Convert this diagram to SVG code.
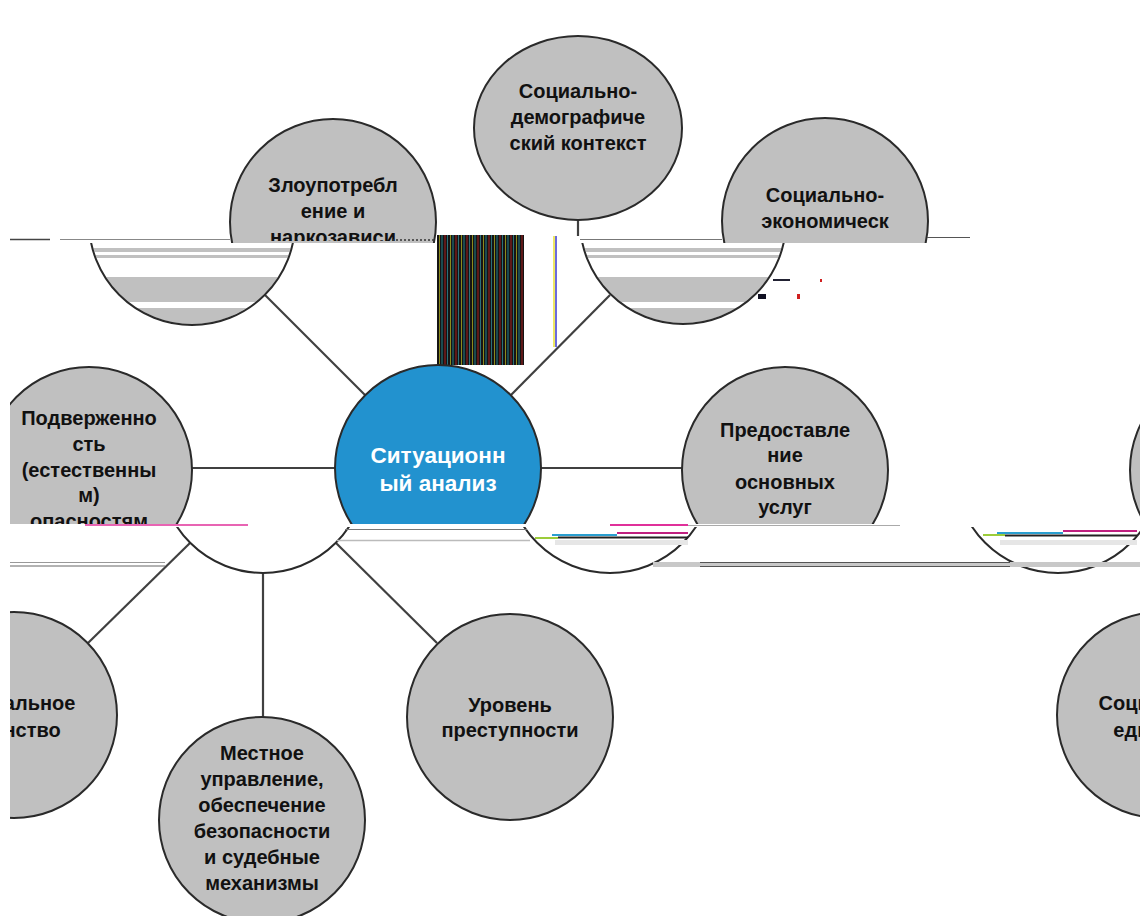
<svg xmlns="http://www.w3.org/2000/svg" width="1140" height="916" viewBox="0 0 1140 916">
<defs>
<style>
.n{fill:#c0c0c0;stroke:#2a2a2a;stroke-width:2}
.w{fill:#fff;stroke:#2a2a2a;stroke-width:2}
.o{fill:none;stroke:#2a2a2a;stroke-width:2}
.c{fill:#2292cf;stroke:#2a2a2a;stroke-width:2}
.t{font-family:"Liberation Sans",Arial,sans-serif;font-weight:bold;font-size:20px;fill:#111;text-anchor:middle}
.tc{font-family:"Liberation Sans",Arial,sans-serif;font-weight:bold;font-size:22.5px;fill:#fff;text-anchor:middle}
.l{stroke:#404040;stroke-width:2.2;fill:none}
.g{fill:#c0c0c0}
</style>
<clipPath id="up243"><rect x="0" y="0" width="1140" height="243"/></clipPath>
<clipPath id="txt241"><rect x="0" y="0" width="1140" height="241"/></clipPath>
<clipPath id="up524"><rect x="0" y="0" width="1140" height="524"/></clipPath>
<clipPath id="lo243"><rect x="0" y="243" width="1140" height="100"/></clipPath>
<clipPath id="lo527"><rect x="0" y="527" width="1140" height="60"/></clipPath>
<clipPath id="zlc"><circle cx="192" cy="222" r="102"/></clipPath>
<clipPath id="sec"><circle cx="683" cy="221" r="102"/></clipPath>
<pattern id="stripes" x="437" y="0" width="11" height="10" patternUnits="userSpaceOnUse">
<rect width="11" height="10" fill="#141414"/>
<rect x="2" width="1" height="10" fill="#8c8a1c"/>
<rect x="4.5" width="1" height="10" fill="#1f7f8c"/>
<rect x="7.5" width="1" height="10" fill="#a81c1c"/>
<rect x="10" width="1" height="10" fill="#2a6f7a"/>
</pattern>
</defs>
<rect width="1140" height="916" fill="#fff"/>

<g id="connectors">
<path class="l" d="M192 468H335"/>
<path class="l" d="M541 468H683"/>
<path class="l" d="M365 395L265 295"/>
<path class="l" d="M511 395L610 295"/>
<path class="l" d="M578 220V236"/>
<path d="M554 236V347" stroke="#e8e030" stroke-width="1.5"/>
<path d="M556 236V347" stroke="#3a3ad0" stroke-width="1.5"/>
<path class="l" d="M190 543L88 643"/>
<path class="l" d="M263 573V717"/>
<path class="l" d="M336 543L437 643"/>
</g>

<g id="node-demography">
<ellipse class="n" cx="578" cy="128" rx="104" ry="92"/>
<text class="t" x="578" y="98">Социально-</text>
<text class="t" x="578" y="124">демографиче</text>
<text class="t" x="578" y="150">ский контекст</text>
</g>

<g id="node-abuse">
<circle class="n" cx="333" cy="222" r="103" clip-path="url(#up243)"/>
<g clip-path="url(#txt241)">
<text class="t" x="333" y="192">Злоупотребл</text>
<text class="t" x="333" y="218">ение и</text>
<text class="t" x="333" y="244">наркозависи</text>
</g>
<path d="M392 240H436" stroke="#333" stroke-width="1.5" stroke-dasharray="2 2"/>
<g clip-path="url(#zlc)">
<rect class="g" x="80" y="248" width="220" height="4"/>
<rect class="g" x="80" y="255" width="220" height="3"/>
<rect class="g" x="80" y="277" width="220" height="25"/>
<rect class="g" x="80" y="308" width="220" height="20"/>
</g>
<circle class="o" cx="192" cy="222" r="103" clip-path="url(#lo243)"/>
</g>

<g id="node-economy">
<circle class="n" cx="825" cy="221" r="103" clip-path="url(#up243)"/>
<g clip-path="url(#txt241)">
<text class="t" x="825" y="202">Социально-</text>
<text class="t" x="825" y="228">экономическ</text>
</g>
<g clip-path="url(#sec)">
<rect class="g" x="570" y="248" width="230" height="4"/>
<rect class="g" x="570" y="255" width="230" height="3"/>
<rect class="g" x="570" y="277" width="230" height="25"/>
<rect class="g" x="570" y="308" width="230" height="20"/>
</g>
<circle class="o" cx="683" cy="221" r="103" clip-path="url(#lo243)"/>
<path d="M773 280H790" stroke="#223" stroke-width="2"/>
<rect x="820" y="279" width="2" height="3" fill="#d02020"/>
<rect x="758" y="294" width="8" height="5" fill="#112"/>
<rect x="797" y="294" width="3" height="5" fill="#d02020"/>
</g>

<rect x="437" y="235" width="87" height="130" fill="url(#stripes)"/>

<g id="node-center">
<circle class="c" cx="438" cy="468" r="103" clip-path="url(#up524)"/>
<text class="tc" x="438" y="463">Ситуационн</text>
<text class="tc" x="438" y="491">ый анализ</text>
<circle class="w" cx="263" cy="470" r="103" clip-path="url(#lo527)"/>
</g>

<g id="node-hazards">
<circle class="n" cx="89" cy="470" r="103" clip-path="url(#up524)"/>
<g clip-path="url(#up524)">
<text class="t" x="89" y="425">Подверженно</text>
<text class="t" x="89" y="451">сть</text>
<text class="t" x="89" y="477">(естественны</text>
<text class="t" x="89" y="502">м)</text>
<text class="t" x="89" y="528">опасностям</text>
</g>
</g>

<g id="node-services">
<circle class="n" cx="785" cy="470" r="103" clip-path="url(#up524)"/>
<text class="t" x="785" y="437">Предоставле</text>
<text class="t" x="785" y="462">ние</text>
<text class="t" x="785" y="489">основных</text>
<text class="t" x="785" y="514">услуг</text>
<circle class="w" cx="610" cy="470" r="103" clip-path="url(#lo527)"/>
</g>

<g id="node-right">
<circle class="n" cx="1233" cy="470" r="103" clip-path="url(#up524)"/>
<circle class="w" cx="1058" cy="470" r="103" clip-path="url(#lo527)"/>
</g>

<g id="glitch">
<path d="M10 239.5H50" stroke="#444" stroke-width="1.5"/>
<path d="M60 239.5H230" stroke="#888" stroke-width="1"/>
<path d="M580 239.5H722" stroke="#777" stroke-width="1"/>
<path d="M927 237.5H970" stroke="#555" stroke-width="1"/>
<path d="M85 525H248" stroke="#e0309a" stroke-width="1.5"/>
<path d="M345 529.5H527" stroke="#777" stroke-width="1"/>
<path d="M337 540.5H530" stroke="#bbb" stroke-width="1.5"/>
<path d="M10 562.5H165" stroke="#999" stroke-width="1"/>
<path d="M10 566H165" stroke="#666" stroke-width="1"/>
<path d="M683 525.5H900" stroke="#aaa" stroke-width="1"/>
<path d="M610 525H688" stroke="#e0309a" stroke-width="2"/>
<path d="M617 533H688" stroke="#c02080" stroke-width="2"/>
<path d="M552 535H617" stroke="#2a9fd0" stroke-width="2"/>
<path d="M558 537.5H688" stroke="#222" stroke-width="2"/>
<path d="M535 538H558" stroke="#9ccc3a" stroke-width="2"/>
<rect x="555" y="540" width="133" height="5" fill="#e6e6e6"/>
<rect x="653" y="562" width="487" height="5" fill="#c8c8c8"/>
<path d="M700 562.5H1010M700 566.5H1010" stroke="#555" stroke-width="1"/>
<path d="M983 535H1005" stroke="#9ccc3a" stroke-width="2"/>
<path d="M997 533H1063" stroke="#2a9fd0" stroke-width="2"/>
<path d="M1063 531H1137" stroke="#c02080" stroke-width="2"/>
<path d="M1005 535.5H1137" stroke="#222" stroke-width="2"/>
<rect x="1000" y="540" width="137" height="5" fill="#e6e6e6"/>
</g>

<g id="node-cohesion-left">
<circle class="n" cx="14" cy="715" r="103"/>
<text class="t" x="14" y="710">Социальное</text>
<text class="t" x="14" y="737">единство</text>
</g>

<g id="node-crime">
<circle class="n" cx="510" cy="717" r="103"/>
<text class="t" x="510" y="712">Уровень</text>
<text class="t" x="510" y="737">преступности</text>
</g>

<g id="node-governance">
<circle class="n" cx="262" cy="820" r="103"/>
<text class="t" x="262" y="760">Местное</text>
<text class="t" x="262" y="786">управление,</text>
<text class="t" x="262" y="812">обеспечение</text>
<text class="t" x="262" y="838">безопасности</text>
<text class="t" x="262" y="864">и судебные</text>
<text class="t" x="262" y="890">механизмы</text>
</g>

<g id="node-cohesion-right">
<circle class="n" cx="1160" cy="715" r="103"/>
<text class="t" x="1160" y="710">Социальное</text>
<text class="t" x="1160" y="737">единство</text>
</g>

<rect x="0" y="0" width="10" height="916" fill="#fff"/>
</svg>
